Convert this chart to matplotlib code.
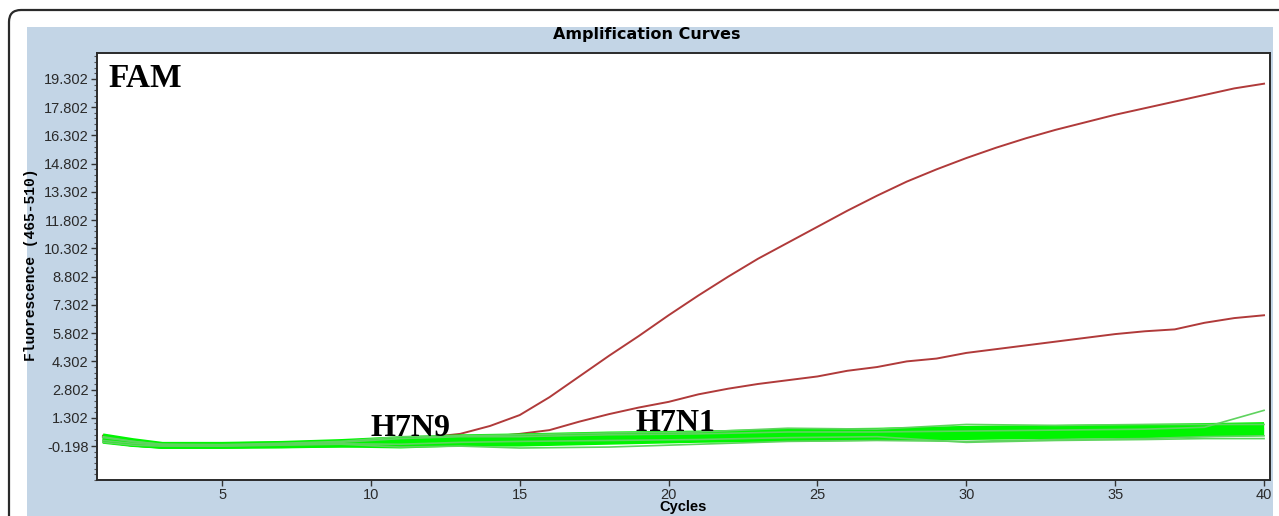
import matplotlib
matplotlib.use("Agg")
import matplotlib.pyplot as plt
from matplotlib.patches import Rectangle, FancyBboxPatch
from matplotlib.transforms import IdentityTransform
from matplotlib.ticker import FixedLocator
import numpy as np

# cycles 1..40
cycles = list(range(1, 41))

# H7N9 curve (upper red)
h7n9 = [0.35, 0.05, -0.15, -0.18, -0.17, -0.12, -0.05, 0.02, 0.08, 0.13,
        0.2, 0.28, 0.45, 0.87, 1.45, 2.4, 3.5, 4.6, 5.65, 6.75,
        7.8, 8.8, 9.75, 10.6, 11.45, 12.3, 13.1, 13.85, 14.5, 15.1,
        15.65, 16.15, 16.6, 17.0, 17.4, 17.75, 18.1, 18.45, 18.8, 19.05]

# H7N1 curve (lower red)
h7n1 = [0.3, 0.0, -0.2, -0.2, -0.15, -0.1, -0.05, 0.0, 0.05, 0.1,
        0.15, 0.2, 0.25, 0.3, 0.45, 0.65, 1.1, 1.5, 1.85, 2.15,
        2.55, 2.85, 3.1, 3.3, 3.5, 3.8, 4.0, 4.3, 4.45, 4.75,
        4.95, 5.15, 5.35, 5.55, 5.75, 5.9, 6.0, 6.35, 6.6, 6.75]

# negative / background samples (green), read at fewer cycles
green_cycles = [1, 2, 3, 5, 7, 9, 11, 13, 15, 18, 21, 24, 27, 30, 33, 36, 38, 40]
green_runs = [
    [0.35, 0.1, -0.1, -0.1, -0.05, 0.05, 0.2, 0.3, 0.35, 0.45, 0.5, 0.6, 0.65, 0.75, 0.8, 0.85, 0.9, 0.95],
    [0.3, 0.05, -0.15, -0.12, -0.08, 0.0, 0.15, 0.25, 0.3, 0.35, 0.45, 0.5, 0.6, 0.65, 0.7, 0.75, 0.8, 0.85],
    [0.25, 0.0, -0.15, -0.15, -0.1, 0.0, 0.1, 0.2, 0.25, 0.3, 0.4, 0.45, 0.5, 0.55, 0.65, 0.7, 0.75, 0.8],
    [0.2, 0.0, -0.18, -0.15, -0.12, -0.05, 0.05, 0.15, 0.2, 0.3, 0.35, 0.4, 0.45, 0.5, 0.55, 0.6, 0.7, 0.75],
    [0.2, -0.05, -0.2, -0.18, -0.12, -0.05, 0.1, 0.15, 0.15, 0.2, 0.3, 0.35, 0.4, 0.45, 0.5, 0.55, 0.6, 0.65],
    [0.15, -0.05, -0.2, -0.2, -0.15, -0.1, 0.0, 0.1, 0.1, 0.15, 0.25, 0.3, 0.35, 0.4, 0.45, 0.5, 0.55, 0.6],
    [0.1, -0.1, -0.2, -0.2, -0.15, -0.1, -0.05, 0.05, 0.05, 0.1, 0.2, 0.25, 0.3, 0.35, 0.4, 0.45, 0.5, 0.55],
    [0.1, -0.1, -0.22, -0.2, -0.18, -0.15, -0.1, 0.0, 0.0, 0.05, 0.15, 0.2, 0.25, 0.3, 0.35, 0.4, 0.45, 0.5],
    [0.05, -0.12, -0.22, -0.22, -0.2, -0.15, -0.2, -0.1, -0.1, 0.0, 0.1, 0.15, 0.2, 0.25, 0.3, 0.35, 0.4, 0.45],
    [0.15, -0.05, -0.18, -0.15, -0.1, -0.05, 0.05, 0.1, 0.15, 0.25, 0.3, 0.35, 0.45, 0.5, 0.6, 0.65, 0.65, 0.7],
]
green_thin = [
    [0.0, -0.15, -0.2, -0.2, -0.15, -0.1, -0.25, -0.2, -0.3, -0.25, -0.1, 0.05, 0.1, 0.05, 0.15, 0.2, 0.3, 0.35],
    [0.3, 0.05, -0.1, -0.12, -0.05, 0.05, 0.3, 0.35, 0.4, 0.5, 0.55, 0.75, 0.7, 0.95, 0.9, 0.95, 0.95, 0.95],
    [0.25, 0.05, -0.12, -0.15, -0.1, 0.0, 0.2, 0.3, 0.3, 0.4, 0.45, 0.55, 0.55, 0.6, 0.65, 0.7, 0.8, 1.7],
    [0.1, -0.05, -0.15, -0.18, -0.12, -0.08, -0.1, 0.0, 0.05, 0.1, 0.15, 0.25, 0.3, 0.0, 0.1, 0.15, 0.2, 0.2],
]

yticks = [-0.198 + 1.5 * k for k in range(14)]
xticks = [5, 10, 15, 20, 25, 30, 35, 40]

W, H = 1279, 516
fig = plt.figure(figsize=(W / 100, H / 100), dpi=100)
fig.patch.set_facecolor('white')

# outer rounded frame and blue panel (pixel coords, origin bottom-left)
fig.add_artist(FancyBboxPatch((9, -60), 1400, H - 10 + 60, boxstyle='round,pad=0,rounding_size=12',
                              transform=IdentityTransform(), facecolor='white', edgecolor='#2a2a2a',
                              lw=1.6, zorder=-3))
fig.add_artist(Rectangle((27, -10), 1273 - 27, H - 27 + 10, transform=IdentityTransform(),
                         facecolor='#c3d5e6', edgecolor='none', zorder=-2))

ax = fig.add_axes([97 / W, 1 - 480 / H, (1270 - 97) / W, (480 - 53) / H])
ax.set_facecolor('white')

for run in h7n9, h7n1:
    ax.plot(cycles, run, color='#b03a3a', lw=1.4, zorder=2)
for run in green_runs:
    ax.plot(green_cycles, run, color='#00f500', lw=3.4, zorder=3, solid_capstyle='butt')
for run in green_thin:
    ax.plot(green_cycles, run, color='#5fd35f', lw=1.2, zorder=3)

ax.set_xlim(0.8, 40.2)
ax.set_ylim(-2.0, 20.68)
ax.set_xticks(xticks)
ax.yaxis.set_major_locator(FixedLocator(yticks))
ax.yaxis.set_minor_locator(FixedLocator([-0.198 + 0.3 * k for k in range(-6, 70)]))
ax.set_yticklabels(['%.3f' % v for v in yticks])
ax.tick_params(axis='both', which='major', direction='out', length=4, width=1,
               labelsize=10.5, labelcolor='#2a2a2a', color='#333333', pad=2)
ax.tick_params(axis='y', which='minor', direction='out', length=2, width=0.8, color='#555555')
for lab in ax.get_xticklabels() + ax.get_yticklabels():
    lab.set_fontfamily('Liberation Sans')
for sp in ax.spines.values():
    sp.set_color('#2a2a2a')
    sp.set_linewidth(1.4)

ax.set_ylabel('Fluorescence (465-510)', fontfamily='Liberation Mono', fontweight='bold', fontsize=10.5)
ax.yaxis.set_label_coords(-0.0503, 0.503)
ax.set_xlabel('Cycles', fontfamily='Liberation Sans', fontweight='bold', fontsize=10.5, va='center')
ax.xaxis.set_label_coords(0.5, -0.064)

fig.text(647 / W, 1 - 35 / H, 'Amplification Curves', ha='center', va='center',
         fontweight='bold', fontsize=11.5, family='DejaVu Sans')

serif = dict(fontfamily='Liberation Serif', fontweight='bold', color='black', va='baseline', zorder=5)
ax.text(1.17, 18.9, 'FAM', fontsize=24, **serif)
ax.text(9.97, 0.35, 'H7N9', fontsize=23, **serif)
ax.text(18.9, 0.6, 'H7N1', fontsize=23, **serif)

fig.savefig('out.png', dpi=100)
